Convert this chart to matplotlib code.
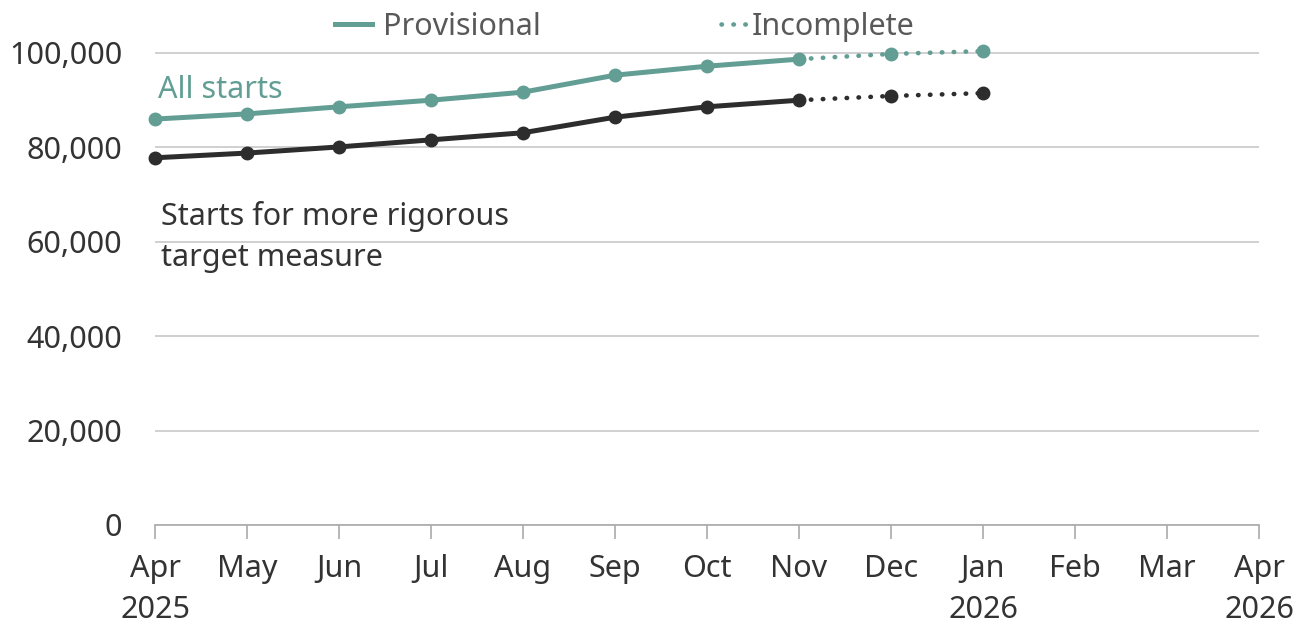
import matplotlib
matplotlib.use("Agg")
import matplotlib.pyplot as plt

plt.rcParams['font.family'] = ['Noto Sans', 'DejaVu Sans']

month_labels = ["Apr\n2025", "May", "Jun", "Jul", "Aug", "Sep", "Oct", "Nov", "Dec",
                "Jan\n2026", "Feb", "Mar", "Apr\n2026"]
all_starts = [86000, 87100, 88600, 90000, 91700, 95300, 97200, 98700, 99800, 100400]
rigorous = [77800, 78800, 80100, 81600, 83100, 86400, 88600, 90000, 90900, 91500]
n_provisional = 8  # Apr..Nov provisional, Nov..Jan incomplete

TEAL = "#629E94"
DARK = "#2D2D2D"
TEXT = "#333333"
FS = 22

fig = plt.figure(figsize=(13.09, 6.23), dpi=100)
ax = fig.add_axes([155/1309, 98/623, (1259-155)/1309, 0.9])
ymax = 100000 * (0.9 * 623) / 472
ax.set_xlim(0, 12)
ax.set_ylim(0, ymax)

x = list(range(len(all_starts)))
for vals, col in [(all_starts, TEAL), (rigorous, DARK)]:
    ax.plot(x[:n_provisional], vals[:n_provisional], color=col, lw=3.6,
            marker='o', ms=9, clip_on=False, zorder=3, solid_capstyle='round')
    ax.plot(x[n_provisional-1:], vals[n_provisional-1:], color=col, lw=3.3,
            linestyle=(0, (0.1, 2.5)), dash_capstyle='round', clip_on=False, zorder=3)
    ax.plot(x[n_provisional:], vals[n_provisional:], color=col, lw=0,
            marker='o', ms=9, clip_on=False, zorder=4)

for s in ['top', 'right', 'left']:
    ax.spines[s].set_visible(False)
ax.spines['bottom'].set_color('#AAAAAA')
ax.spines['bottom'].set_linewidth(1.2)

yt = [0, 20000, 40000, 60000, 80000, 100000]
ax.set_yticks(yt)
ax.set_yticklabels([f"{v:,}" for v in yt])
ax.yaxis.grid(True, color='#C8C8C8', lw=1.2)
ax.set_axisbelow(True)
ax.tick_params(axis='y', length=0, pad=23.5, labelsize=FS, labelcolor=TEXT)
ax.set_xticks(range(13))
ax.set_xticklabels(month_labels, linespacing=1.45)
ax.tick_params(axis='x', length=10, width=1.2, color='#AAAAAA', pad=11,
               labelsize=FS, labelcolor=TEXT)

ax.text(0.03, 92200, "All starts", color=TEAL, fontsize=FS, va='center', ha='left')
ax.text(0.06, 61000, "Starts for more rigorous\ntarget measure", color=TEXT,
        fontsize=FS, va='center', ha='left', linespacing=1.45)

# legend
ly = 1 - 27/623
fig.lines.append(plt.Line2D([335/1309, 372/1309], [1 - 24/623, 1 - 24/623],
                            color=TEAL, lw=3.6, transform=fig.transFigure))
fig.text(383/1309, ly, "Provisional", color='#595959', fontsize=FS,
         va='center', ha='left')
fig.lines.append(plt.Line2D([721/1309, 748/1309], [1 - 24/623, 1 - 24/623],
                            color=TEAL, lw=3.3, linestyle=(0, (0.1, 2.5)),
                            dash_capstyle='round', transform=fig.transFigure))
fig.text(752/1309, ly, "Incomplete", color='#595959', fontsize=FS,
         va='center', ha='left')

fig.savefig("out.png", dpi=100)
